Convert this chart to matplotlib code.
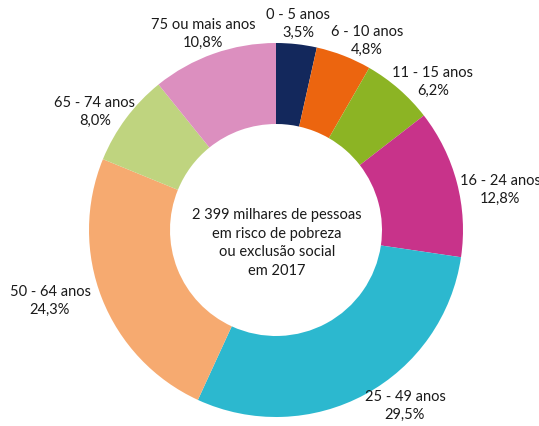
import matplotlib
matplotlib.use("Agg")
import matplotlib.pyplot as plt

# Pessoas em risco de pobreza ou exclusão social por grupo etário, 2017
grupos = ["0 - 5 anos", "6 - 10 anos", "11 - 15 anos", "16 - 24 anos",
          "25 - 49 anos", "50 - 64 anos", "65 - 74 anos", "75 ou mais anos"]
percentagens = [3.5, 4.8, 6.2, 12.8, 29.5, 24.3, 8.0, 10.8]
cores = ["#13285c", "#ec650f", "#8cb424", "#c8338a",
         "#2cb8cf", "#f6aa70", "#bfd47f", "#dc8fbf"]

# posição (pixels, origem no canto superior esquerdo) do centro de cada rótulo
rotulo_xy = [(298, 24), (367, 41), (433, 82), (500, 190),
             (405, 406), (50, 301), (95, 112), (203, 34)]

W, H = 539, 426
cx, cy = 276, 230
R, r_int = 187, 106

plt.rcParams["font.family"] = ["Lato", "DejaVu Sans"]

fig = plt.figure(figsize=(W / 100, H / 100), dpi=100)
ax = fig.add_axes([0, 0, 1, 1])
ax.set_xlim(0, W)
ax.set_ylim(0, H)
ax.set_aspect("equal")
ax.axis("off")

ax.pie(percentagens, colors=cores, startangle=90, counterclock=False,
       center=(cx, H - cy), radius=R,
       wedgeprops=dict(width=R - r_int, linewidth=0))
ax.set_xlim(0, W)
ax.set_ylim(0, H)

for g, p, (x, y) in zip(grupos, percentagens, rotulo_xy):
    txt = g + "\n" + f"{p:.1f}".replace(".", ",") + "%"
    ax.text(x, H - y, txt, ha="center", va="center", fontsize=10.5,
            color="#1a1a1a", linespacing=1.42)

ax.text(cx + 1, H - 243, "2 399 milhares de pessoas\nem risco de pobreza\nou exclusão social\nem 2017",
        ha="center", va="center", fontsize=10.5, color="#1a1a1a", linespacing=1.45)

fig.savefig("out.png", dpi=100)
